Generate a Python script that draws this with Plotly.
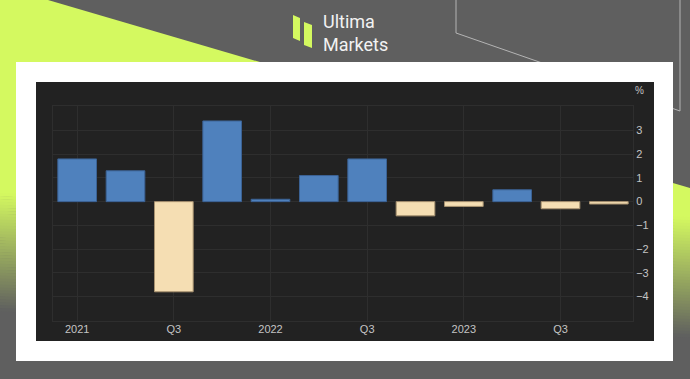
import plotly.graph_objects as go

# ---------------- data ----------------
quarters = ["2021Q1", "2021Q2", "2021Q3", "2021Q4",
            "2022Q1", "2022Q2", "2022Q3", "2022Q4",
            "2023Q1", "2023Q2", "2023Q3", "2023Q4"]
values = [1.8, 1.3, -3.8, 3.4, 0.1, 1.1, 1.8, -0.6, -0.2, 0.5, -0.3, -0.1]
tick_quarters = ["2021Q1", "2021Q3", "2022Q1", "2022Q3", "2023Q1", "2023Q3"]
tick_labels = ["2021", "Q3", "2022", "Q3", "2023", "Q3"]
y_ticks = [-4, -3, -2, -1, 0, 1, 2, 3]

W, H = 690, 379
LIME = (212, 249, 96)
GRAY = (95, 95, 95)


def px(x):
    return x / W


def py(y):
    return 1 - y / H


def path(points, close=True):
    s = "M " + " L ".join(f"{px(x):.5f},{py(y):.5f}" for x, y in points)
    return s + (" Z" if close else "")


def rgb(c):
    return f"rgb({int(round(c[0]))},{int(round(c[1]))},{int(round(c[2]))})"


shapes = []
# lime region
shapes.append(dict(type="path", xref="paper", yref="paper", layer="below",
                   path=path([(0, 0), (48, 0), (690, 188), (690, 218), (0, 194)]),
                   fillcolor=rgb(LIME), line=dict(width=0)))
# gradient bands
N = 40
for i in range(N):
    t0, t1 = i / N, (i + 1) / N
    yl0, yl1 = 193 + 118 * t0, 193 + 118 * t1 + 0.6
    yr0, yr1 = 217 + 120 * t0, 217 + 120 * t1 + 0.6
    tm = (t0 + t1) / 2
    col = tuple(LIME[k] + (GRAY[k] - LIME[k]) * tm for k in range(3))
    shapes.append(dict(type="path", xref="paper", yref="paper", layer="below",
                       path=path([(0, yl0), (690, yr0), (690, yr1), (0, yl1)]),
                       fillcolor=rgb(col), line=dict(width=0)))
# thin outline line
shapes.append(dict(type="path", xref="paper", yref="paper", layer="below",
                   path=path([(456, -2), (456, 33), (680, 111), (680, -2)], close=False),
                   line=dict(color="#b4b4b4", width=1)))
# white panel
shapes.append(dict(type="rect", xref="paper", yref="paper", layer="below",
                   x0=px(16), x1=px(673), y0=py(361), y1=py(62),
                   fillcolor="#ffffff", line=dict(width=0)))
# dark panel
shapes.append(dict(type="rect", xref="paper", yref="paper", layer="below",
                   x0=px(36), x1=px(654), y0=py(341), y1=py(82),
                   fillcolor="#222222", line=dict(width=0)))
# logo bars
shapes.append(dict(type="path", xref="paper", yref="paper", layer="below",
                   path=path([(293, 15), (300, 18), (300, 41), (293, 38)]),
                   fillcolor=rgb(LIME), line=dict(width=0)))
shapes.append(dict(type="path", xref="paper", yref="paper", layer="below",
                   path=path([(304, 22), (312, 25), (312, 48), (304, 45)]),
                   fillcolor=rgb(LIME), line=dict(width=0)))

fills = ["#4f81bd" if v >= 0 else "#f5deb3" for v in values]
borders = ["#3b6294" if v >= 0 else "#a89270" for v in values]

fig = go.Figure()
fig.add_trace(go.Bar(x=quarters, y=values, width=0.8,
                     marker=dict(color=fills, line=dict(color=borders, width=1)),
                     hoverinfo="skip"))

font_axis = dict(family="Liberation Sans, Arial", size=11, color="#c4c4c4")
grid = "#2e2e2e"
logo_font = dict(family="Roboto, Inter", size=18, color="#f2f2f2")

fig.update_layout(
    width=W, height=H, margin=dict(l=0, r=0, t=0, b=0),
    paper_bgcolor=rgb(GRAY), plot_bgcolor="rgba(0,0,0,0)",
    showlegend=False, shapes=shapes, bargap=0.2,
    xaxis=dict(domain=[px(53), px(633)], type="category",
               categoryorder="array", categoryarray=quarters,
               tickmode="array", tickvals=tick_quarters, ticktext=tick_labels,
               showgrid=True, gridcolor=grid, gridwidth=1,
               showline=True, mirror=True, linecolor=grid, linewidth=1,
               ticks="", tickfont=font_axis, zeroline=False, ticklabelstandoff=-2,
               range=[-0.5, 11.5]),
    yaxis=dict(domain=[py(321), py(106)], range=[-5.03, 4.03], side="right",
               tickmode="array", tickvals=y_ticks,
               showgrid=True, gridcolor=grid, gridwidth=1,
               showline=True, mirror=True, linecolor=grid, linewidth=1,
               zeroline=False, ticks="", tickfont=font_axis),
    annotations=[
        dict(x=px(639), y=py(90), xref="paper", yref="paper", text="%",
             showarrow=False, font=dict(family="Liberation Sans, Arial", size=10, color="#c4c4c4"),
             xanchor="center", yanchor="middle"),
        dict(x=px(322), y=py(33), xref="paper", yref="paper", text="Ultima",
             showarrow=False, font=logo_font,
             xanchor="left", yanchor="bottom", borderpad=0),
        dict(x=px(322), y=py(33), xref="paper", yref="paper", text="Markets",
             showarrow=False, font=logo_font,
             xanchor="left", yanchor="top", borderpad=0),
    ],
)

fig.write_html("out.html", config={"displayModeBar": False},
               post_script="document.body.style.margin='0';document.body.style.padding='0';"
                           "document.documentElement.style.overflow='hidden';")
